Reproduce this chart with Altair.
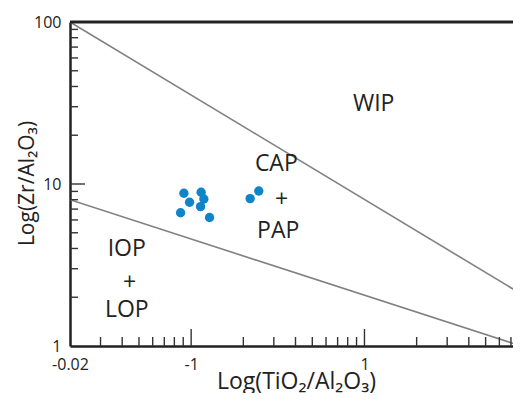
import altair as alt
import pandas as pd

# ---- data ----
pt_x = [0.0908, 0.0979, 0.0869, 0.1142, 0.1184, 0.1133, 0.1277, 0.219, 0.2456]
pt_y = [8.77, 7.71, 6.65, 8.89, 8.08, 7.25, 6.21, 8.13, 9.06]

upper_x = [0.02, 8.0]
upper_y = [100.0, 2.1]
lower_x = [0.02, 8.0]
lower_y = [8.0, 1.0]

region_text = ["WIP", "CAP", "+", "PAP", "IOP", "+", "LOP"]
region_x = [1.13, 0.31, 0.332, 0.318, 0.0425, 0.0442, 0.0425]
region_y = [31.0, 13.2, 8.0, 5.15, 3.98, 2.46, 1.66]

x_tick_values = [0.02, 0.1, 1.0, 8.0]
x_tick_labels = ["-0.02", "-1", "1", "8"]
y_tick_values = [1.0, 10.0, 100.0]
y_tick_labels = ["1", "10", "100"]

x_major = [0.1, 1.0]
x_minor = [0.03, 0.04, 0.05, 0.06, 0.07, 0.08, 0.09,
           0.2, 0.3, 0.4, 0.5, 0.6, 0.7, 0.8, 0.9,
           2, 3, 4, 5, 6, 7]
y_major = [10.0]
y_minor = [2, 3, 4, 5, 6, 7, 8, 9, 20, 30, 40, 50, 60, 70, 80, 90]

x_title = "Log(TiO₂/Al₂O₃)"
y_title = "Log(Zr/Al₂O₃)"

# ---- layout ----
W, H = 451, 324
FONT = "Open Sans"

xs = alt.Scale(type="log", domain=[0.02, 8], nice=False)
ys = alt.Scale(type="log", domain=[1, 100], nice=False)


def label_expr(values, labels):
    expr = "''"
    for v, l in reversed(list(zip(values, labels))):
        expr = f"datum.value == {v} ? '{l}' : ({expr})"
    return expr


x_axis = alt.Axis(values=x_tick_values, labelExpr=label_expr(x_tick_values, x_tick_labels),
                  ticks=False, tickSize=0, grid=False, domainColor="#222", domainWidth=2.5,
                  labelFont=FONT, labelFontSize=16, labelColor="#222", labelPadding=10,
                  labelBaseline="top", labelFlush=False,
                  title=x_title, titleFont=FONT, titleFontSize=23, titleFontWeight="normal",
                  titleColor="#222", titleX=226, titleY=42, titleBaseline="alphabetic",
                  titleAlign="center")
y_axis = alt.Axis(values=y_tick_values, labelExpr=label_expr(y_tick_values, y_tick_labels),
                  ticks=False, tickSize=0, grid=False, domainColor="#222", domainWidth=2.5,
                  labelFont=FONT, labelFontSize=16, labelColor="#222", labelPadding=9,
                  labelBaseline="middle", labelFlush=False,
                  title=y_title, titleFont=FONT, titleFontSize=21, titleFontWeight="normal",
                  titleColor="#222", titleX=-37, titleY=161, titleBaseline="alphabetic",
                  titleAlign="center", titleAngle=270)

pts = pd.DataFrame({"x": pt_x, "y": pt_y})
upper = pd.DataFrame({"x": upper_x, "y": upper_y})
lower = pd.DataFrame({"x": lower_x, "y": lower_y})
regions = pd.DataFrame({"x": region_x, "y": region_y, "t": region_text})

points = alt.Chart(pts).mark_circle(size=88, color="#0d85c8", opacity=1).encode(
    x=alt.X("x:Q", scale=xs, axis=x_axis),
    y=alt.Y("y:Q", scale=ys, axis=y_axis),
)

line_u = alt.Chart(upper).mark_line(color="#808080", strokeWidth=1.6, clip=True).encode(
    x=alt.X("x:Q", scale=xs), y=alt.Y("y:Q", scale=ys))
line_l = alt.Chart(lower).mark_line(color="#808080", strokeWidth=1.6, clip=True).encode(
    x=alt.X("x:Q", scale=xs), y=alt.Y("y:Q", scale=ys))

texts = alt.Chart(regions).mark_text(font=FONT, fontSize=23, color="#222",
                                     baseline="middle", align="center").encode(
    x=alt.X("x:Q", scale=xs), y=alt.Y("y:Q", scale=ys), text="t:N")


def xticks(vals, length):
    return alt.Chart(pd.DataFrame({"x": vals})).mark_rule(color="#333", strokeWidth=1.4).encode(
        x=alt.X("x:Q", scale=xs), y=alt.value(H), y2=alt.value(H - length))


def yticks(vals, length):
    return alt.Chart(pd.DataFrame({"y": vals})).mark_rule(color="#333", strokeWidth=1.4).encode(
        y=alt.Y("y:Q", scale=ys), x=alt.value(0), x2=alt.value(length))


top_frame = alt.Chart(pd.DataFrame({"a": [0]})).mark_rule(color="#222", strokeWidth=3).encode(
    x=alt.value(0), x2=alt.value(W), y=alt.value(0))

chart = alt.layer(
    points,
    line_u, line_l,
    xticks(x_minor, 9), xticks(x_major, 17),
    yticks(y_minor, 8), yticks(y_major, 15),
    top_frame, texts,
).properties(
    width=W, height=H,
    autosize=alt.AutoSizeParams(type="none"),
    padding={"left": 62, "top": 14, "right": -8, "bottom": 47},
).configure_view(stroke=None)

chart.save("out.html", embed_options={"renderer": "svg", "actions": False})
